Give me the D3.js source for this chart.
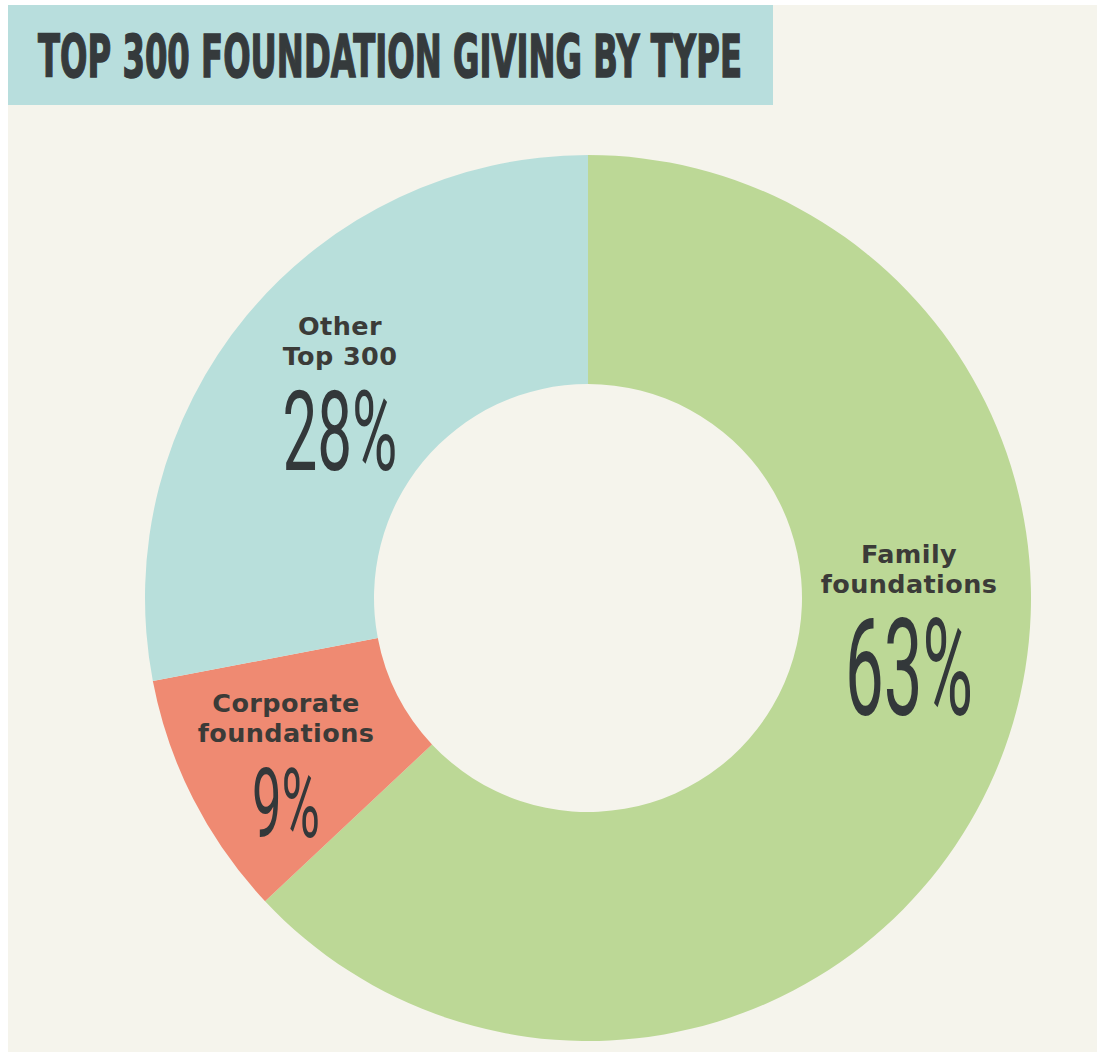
<!DOCTYPE html>
<html>
<head>
<meta charset="utf-8">
<script src="https://cdn.jsdelivr.net/npm/d3@7"></script>
<style>
  html, body { margin: 0; padding: 0; background: #ffffff; }
  svg { display: block; }
</style>
</head>
<body>
<svg id="chart" width="1097" height="1053"></svg>
<script>
// Share of Top 300 foundation giving, by foundation type
const categories = ["Family foundations", "Corporate foundations", "Other Top 300"];
const shares = [63, 9, 28];
const labelLines = [["Family", "foundations"], ["Corporate", "foundations"], ["Other", "Top 300"]];
const colors = ["#bcd896", "#ef8a72", "#b8dfdb"];
const title = "TOP 300 FOUNDATION GIVING BY TYPE";

const svg = d3.select("#chart");
const W = 1097, H = 1053;

// page panel
svg.append("rect").attr("x", 8).attr("y", 5).attr("width", W - 8).attr("height", H - 6)
  .attr("fill", "#f5f4ec");

// title band
svg.append("rect").attr("x", 8).attr("y", 5).attr("width", 765).attr("height", 100)
  .attr("fill", "#b8dedd");
svg.append("text")
  .attr("x", 38).attr("y", 77)
  .attr("font-family", "'DejaVu Sans', sans-serif")
  .attr("font-weight", 700)
  .attr("font-size", 58)
  .attr("fill", "#353a3c")
  .attr("stroke", "#353a3c")
  .attr("stroke-width", 1.6)
  .attr("textLength", 704)
  .attr("lengthAdjust", "spacingAndGlyphs")
  .text(title);

// donut
const cx = 588, cy = 598, outerR = 443, innerR = 214;
const g = svg.append("g").attr("transform", `translate(${cx},${cy})`);

const pie = d3.pie().sort(null).value(d => d.value);
const arcs = pie(categories.map((c, i) => ({ name: c, value: shares[i], lines: labelLines[i], color: colors[i] })));
const arc = d3.arc().innerRadius(innerR).outerRadius(outerR);

g.selectAll("path.slice")
  .data(arcs)
  .join("path")
  .attr("class", "slice")
  .attr("d", arc)
  .attr("fill", d => d.data.color);

// label anchor points (relative to donut centre) and percentage sizes
const labelPos = [
  { x: 321, y: -35, pctW: 128, pctH: 97 },
  { x: -302, y: 114, pctW: 68, pctH: 70 },
  { x: -248, y: -263, pctW: 115, pctH: 80 }
];

const labels = g.selectAll("g.label")
  .data(arcs)
  .join("g")
  .attr("class", "label")
  .attr("transform", (d, i) => `translate(${labelPos[i].x},${labelPos[i].y})`);

labels.each(function(d, i) {
  const el = d3.select(this);
  d.data.lines.forEach((line, j) => {
    el.append("text")
      .attr("x", 0).attr("y", j * 30)
      .attr("text-anchor", "middle")
      .attr("font-family", "'DejaVu Sans', sans-serif")
      .attr("font-weight", 700)
      .attr("font-size", 25.5)
      .attr("letter-spacing", 0.4)
      .attr("fill", "#3b3b38")
      .text(line);
  });
  const p = labelPos[i];
  const fs = p.pctH / 0.72;
  el.append("text")
    .attr("x", -p.pctW / 2).attr("y", 30 + 25 + p.pctH)
    .attr("font-family", "Roboto, sans-serif")
    .attr("font-weight", 400)
    .attr("font-size", fs)
    .attr("fill", "#33383a")
    .attr("textLength", p.pctW)
    .attr("lengthAdjust", "spacingAndGlyphs")
    .text(d.data.value + "%");
});
</script>
</body>
</html>
